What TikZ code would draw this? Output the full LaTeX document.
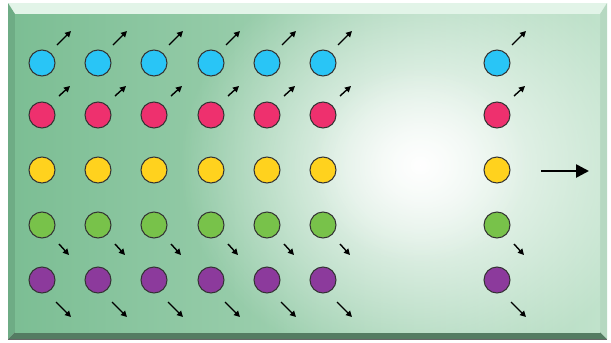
\documentclass[tikz,border=0pt]{standalone}
\usetikzlibrary{fadings,arrows.meta}
\definecolor{bgL}{RGB}{124,190,148}
\definecolor{bgR}{RGB}{192,226,203}
\definecolor{bevT}{RGB}{226,244,232}
\definecolor{bevL}{RGB}{110,172,133}
\definecolor{bevB}{RGB}{84,124,98}
\definecolor{bevR}{RGB}{182,216,193}
\definecolor{cblue}{RGB}{41,197,246}
\definecolor{cpink}{RGB}{238,48,110}
\definecolor{cyellow}{RGB}{255,210,30}
\definecolor{cgreen}{RGB}{120,194,74}
\definecolor{cpurple}{RGB}{140,58,156}
\tikzfading[name=glowfade, inner color=transparent!0, outer color=transparent!100]
\tikzset{
  particle/.style={circle, draw=black!80, line width=1pt, minimum size=26pt, inner sep=0pt},
  smallarrow/.style={-{Triangle[length=6pt,width=6pt]}, line width=1.4pt, black},
  bigarrow/.style={-{Triangle[length=13pt,width=13pt]}, line width=2.6pt, black}
}
\begin{document}
\begin{tikzpicture}[x=1pt,y=-1pt]
\useasboundingbox (0,0) rectangle (611,343);
\fill[white] (0,0) rectangle (611,343);
% bevel frame
\fill[bevT] (8,3) -- (607,3) -- (600,14) -- (15,14) -- cycle;
\fill[bevL] (8,3) -- (15,14) -- (15,332) -- (8,339) -- cycle;
\fill[bevB] (8,339) -- (15,332) -- (600,332) -- (607,339) -- cycle;
\fill[bevR] (607,3) -- (600,14) -- (600,332) -- (607,339) -- cycle;
\draw[black!60, line width=0.8pt] (8,339) -- (607,339);
% main gradient
\shade[left color=bgL, right color=bgR] (15,14) rectangle (600,332);
\begin{scope}
\clip (15,14) rectangle (600,332);
\fill[white, path fading=glowfade] (420,165) ellipse (240 and 210);
\fill[white, path fading=glowfade, opacity=0.55] (420,165) ellipse (110 and 100);
\end{scope}
% particles
\foreach \x [count=\i] in {42,98,154,211,267,323,497} {
  \node[particle, fill=cblue]   (b\i) at (\x,63) {};
  \node[particle, fill=cpink]   (p\i) at (\x,115) {};
  \node[particle, fill=cyellow] (y\i) at (\x,170) {};
  \node[particle, fill=cgreen]  (g\i) at (\x,225) {};
  \node[particle, fill=cpurple] (v\i) at (\x,280) {};
  \coordinate (ba\i) at (\x+15,45);
  \coordinate (bb\i) at (\x+29,31);
  \coordinate (pa\i) at (\x+17,96);
  \coordinate (pb\i) at (\x+28,86);
  \coordinate (ga\i) at (\x+17,244);
  \coordinate (gb\i) at (\x+27,255);
  \coordinate (va\i) at (\x+14,302);
  \coordinate (vb\i) at (\x+29,317);
  \draw[smallarrow] (ba\i) -- (bb\i);
  \draw[smallarrow] (pa\i) -- (pb\i);
  \draw[smallarrow] (ga\i) -- (gb\i);
  \draw[smallarrow] (va\i) -- (vb\i);
}
\coordinate (ra) at (541,171);
\coordinate (rb) at (589,171);
\draw[bigarrow] (ra) -- (rb);
\end{tikzpicture}
\end{document}
